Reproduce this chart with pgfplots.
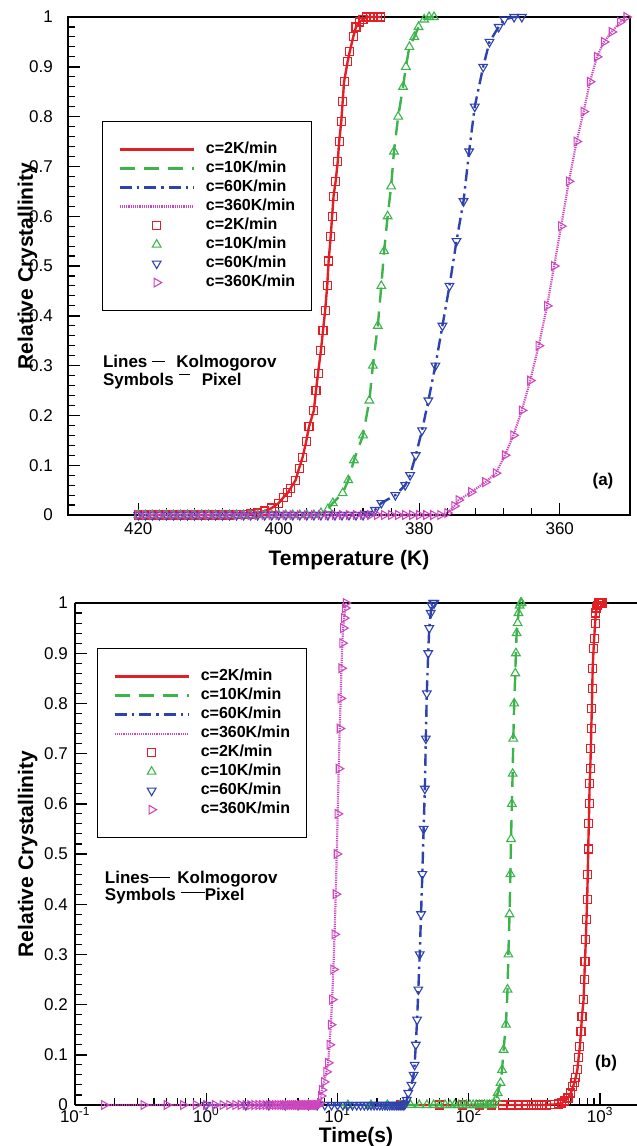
\documentclass[border=0pt]{standalone}
\usepackage{pgfplots}
\pgfplotsset{compat=1.18}
\usepackage{pgfplotstable}
\usepackage{fontspec}
\setmainfont{Liberation Sans}

\definecolor{cred}{RGB}{228,30,37}
\definecolor{cgreen}{RGB}{60,180,75}
\definecolor{cblue}{RGB}{45,65,175}
\definecolor{cmag}{RGB}{205,70,190}

% c = 2 K/min
\pgfplotstableread{
T X t
420 0 0
419 0 30
418 0 60
417 0 90
416 0 120
415 0 150
414 0 180
413 0 210
412 0 240
411 0 270
410 0 300
409 0 330
408 0 360
407 0 390
406 0.001 420
405 0.001 450
404 0.002 480
403 0.004 510
402 0.008 540
401 0.014 570
400 0.024 600
399.3 0.036 621
398.7 0.045 639
398.3 0.054 651
397.6 0.070 672
397.1 0.094 687
396.6 0.116 702
396.1 0.147 717
395.7 0.177 729
395.0 0.210 750
394.7 0.250 759
394.4 0.285 768
394.0 0.330 780
393.7 0.370 789
393.4 0.410 798
393.1 0.460 807
392.9 0.510 813
392.6 0.560 822
392.4 0.600 828
392.2 0.640 834
391.9 0.670 843
391.6 0.710 852
391.4 0.750 858
391.1 0.790 867
390.9 0.830 873
390.7 0.870 879
390.2 0.910 894
389.9 0.930 903
389.4 0.960 918
389.0 0.980 930
388.5 0.990 945
388.0 0.995 960
387.5 1 975
387.0 1 990
386.5 1 1005
386.0 1 1020
385.5 1 1035
}\tred

% c = 10 K/min
\pgfplotstableread{
T X t
420 0 0
419 0 6
418 0 12
417 0 18
416 0 24
415 0 30
414 0 36
413 0 42
412 0 48
411 0 54
410 0 60
409 0 66
408 0 72
407 0 78
406 0 84
405 0 90
404 0 96
403 0 102
402 0 108
401 0 114
400 0 120
399 0 126
398 0 132
397 0 138
396 0 144
395 0 150
394 0.004 156
393 0.012 162
392.3 0.024 166.2
390.9 0.044 174.6
390.1 0.070 179.4
389.3 0.110 184.2
388.0 0.160 192
387.1 0.230 197.4
386.6 0.300 200.4
385.9 0.380 204.6
385.4 0.460 207.6
385.0 0.530 210
384.5 0.600 213
384.0 0.660 216
383.6 0.730 218.4
383.0 0.800 222
382.3 0.860 226.2
381.9 0.900 228.6
381.4 0.940 231.6
380.7 0.960 235.8
380.1 0.980 239.4
379.3 0.995 244.2
378.6 1 248.4
377.9 1 252.6
}\tgreen

% c = 60 K/min
\pgfplotstableread{
T X t
420 0 0
419 0 1
418 0 2
417 0 3
416 0 4
415 0 5
414 0 6
413 0 7
412 0 8
411 0 9
410 0 10
409 0 11
408 0 12
407 0 13
406 0 14
405 0 15
404 0 16
403 0 17
402 0 18
401 0 19
400 0 20
399 0 21
398 0 22
397 0 23
396 0 24
395 0 25
394 0 26
393 0 27
392 0 28
391 0 29
390 0 30
389 0 31
388 0 32
387.3 0.002 32.7
386.3 0.010 33.7
385.4 0.024 34.6
383.4 0.040 36.6
382.0 0.060 38
381.3 0.080 38.7
380.5 0.120 39.5
379.6 0.170 40.4
378.7 0.230 41.3
377.7 0.300 42.3
376.7 0.380 43.3
375.7 0.460 44.3
374.7 0.550 45.3
373.7 0.630 46.3
372.9 0.730 47.1
372.1 0.820 47.9
370.9 0.900 49.1
370.0 0.950 50
368.7 0.980 51.3
367.9 0.995 52.1
366.5 1 53.5
365.4 1 54.6
}\tblue

% c = 360 K/min
\pgfplotstableread{
T X t
420 0 0
419 0 0.1667
418 0 0.3333
417 0 0.5
416 0 0.6667
415 0 0.8333
414 0 1
413 0 1.1667
412 0 1.3333
411 0 1.5
410 0 1.6667
409 0 1.8333
408 0 2
407 0 2.1667
406 0 2.3333
405 0 2.5
404 0 2.6667
403 0 2.8333
402 0 3
401 0 3.1667
400 0 3.3333
399 0 3.5
398 0 3.6667
397 0 3.8333
396 0 4
395 0 4.1667
394 0 4.3333
393 0 4.5
392 0 4.6667
391 0 4.8333
390 0 5
389 0 5.1667
388 0 5.3333
387 0 5.5
386 0 5.6667
385 0 5.8333
384 0 6
383 0 6.1667
382 0 6.3333
381 0 6.5
380 0 6.6667
379 0 6.8333
378 0 7
377 0 7.1667
376 0.004 7.3333
375 0.018 7.5
374.4 0.030 7.6
372.6 0.046 7.9
370.6 0.066 8.233
369.1 0.084 8.483
367.8 0.120 8.7
366.6 0.160 8.9
365.4 0.210 9.1
364.2 0.270 9.3
363.0 0.340 9.5
361.8 0.420 9.7
360.8 0.500 9.867
359.8 0.580 10.033
358.7 0.670 10.217
357.6 0.750 10.4
356.6 0.810 10.567
355.7 0.870 10.717
354.7 0.920 10.883
353.7 0.950 11.05
352.6 0.970 11.233
351.4 0.990 11.433
350.5 1 11.583
}\tmag

\pgfplotsset{
  mylegimg/.style={legend image code/.code={\draw[mark repeat=2,mark phase=2,##1] plot coordinates {(0pt,0pt) (37pt,0pt) (74pt,0pt)};}},
  common/.style={
    scale only axis, width=562pt,
    ymin=0, ymax=1,
    ytick={0,0.1,0.2,0.3,0.4,0.5,0.6,0.7,0.8,0.9,1},
    minor y tick num=4,
    tick align=inside,
    major tick length=12pt, minor tick length=7pt,
    every tick/.append style={line width=1.4pt, black},
    every minor tick/.append style={line width=1.1pt},
    axis line style={line width=2pt},
    /pgf/number format/assume math mode=true,
    tick label style={font=\fontsize{17}{17}\selectfont},
    label style={font=\bfseries\fontsize{21}{21}\selectfont},
    clip=false,
    legend cell align=left,
    legend style={font=\bfseries\fontsize{16}{16}\selectfont, draw=black, line width=1pt,
      anchor=north west, inner xsep=16pt, inner ysep=20pt, row sep=3pt, column sep=11pt,
      nodes={inner sep=0pt, text height=12pt, text depth=4pt}},
    mylegimg,
  },
  lred/.style={cred, line width=2.4pt, no marks},
  lgreen/.style={cgreen, line width=2.4pt, no marks, dash pattern=on 15pt off 9pt},
  lblue/.style={cblue, line width=2.4pt, no marks, dash pattern=on 12pt off 5pt on 2.5pt off 5pt},
  lmag/.style={cmag, line width=2.2pt, no marks, dash pattern=on 1.2pt off 1pt},
  mred/.style={cred, only marks, mark=square, mark size=4pt, line width=1.1pt, mark options={solid}, mylegimg},
  mgreen/.style={cgreen, only marks, mark=triangle, mark size=5pt, line width=1.1pt, mark options={solid}, mylegimg},
  mblue/.style={cblue, only marks, mark=triangle, mark size=5pt, line width=1.1pt, mark options={solid, rotate=180}, mylegimg},
  mmag/.style={cmag, only marks, mark=triangle, mark size=5pt, line width=1.1pt, mark options={solid, rotate=-90}, mylegimg},
}

\begin{document}
\begin{tikzpicture}
\useasboundingbox (0pt,0pt) rectangle (637pt,-1146pt);

% ---------------- panel (a)
\begin{axis}[common, at={(68pt,-17pt)}, anchor=north west, height=498pt,
  tick pos=left,
  x dir=reverse, xmin=350, xmax=430,
  xtick={360,380,400,420}, minor x tick num=4,
  xticklabel style={anchor=base, inner sep=0pt, yshift=-19pt},
  yticklabel style={anchor=east, inner sep=0pt, xshift=-15pt},
  xlabel={Temperature (K)},
  xlabel style={at={(axis description cs:0.5,0)}, anchor=base, inner sep=0pt, yshift=-50pt},
  ylabel={Relative Crystallinity},
  ylabel style={at={(axis description cs:-0.0623,0.5)}, anchor=base, inner sep=0pt},
  legend style={at={(axis description cs:0.0605,0.791)}},
]
\addplot[lred] table[x=T,y=X] {\tred};
\addlegendentry{c=2K/min}
\addplot[lgreen] table[x=T,y=X] {\tgreen};
\addlegendentry{c=10K/min}
\addplot[lblue] table[x=T,y=X] {\tblue};
\addlegendentry{c=60K/min}
\addplot[lmag] table[x=T,y=X] {\tmag};
\addlegendentry{c=360K/min}
\addplot[mred] table[x=T,y=X] {\tred};
\addlegendentry{c=2K/min}
\addplot[mgreen] table[x=T,y=X] {\tgreen};
\addlegendentry{c=10K/min}
\addplot[mblue] table[x=T,y=X] {\tblue};
\addlegendentry{c=60K/min}
\addplot[mmag] table[x=T,y=X] {\tmag};
\addlegendentry{c=360K/min}
\node[anchor=base west, inner sep=0pt, font=\bfseries\fontsize{17}{17}\selectfont] at (axis description cs:0.062,0.297)
  {Lines\hspace{5pt}\rule[5pt]{13pt}{1.2pt}\hspace{11pt}Kolmogorov};
\node[anchor=base west, inner sep=0pt, font=\bfseries\fontsize{17}{17}\selectfont] at (axis description cs:0.062,0.261)
  {Symbols\hspace{5pt}\rule[10pt]{11pt}{1.2pt}\hspace{12pt}Pixel};
\node[anchor=base, inner sep=0pt, font=\bfseries\fontsize{17}{17}\selectfont] at (axis description cs:0.952,0.060) {(a)};
\end{axis}

% ---------------- panel (b)
\begin{axis}[common, at={(75pt,-603pt)}, anchor=north west, height=502pt,
  xmode=log, xmin=0.1, xmax=1914,
  axis x line*=box, axis y line*=left,
  xtick pos=left, ytick pos=left,
  xtick={0.1,1,10,100,1000},
  xticklabels={10\textsuperscript{-1},10\textsuperscript{0},10\textsuperscript{1},10\textsuperscript{2},10\textsuperscript{3}},
  minor xtick={0.2,0.3,0.4,0.5,0.6,0.7,0.8,0.9,2,3,4,5,6,7,8,9,20,30,40,50,60,70,80,90,200,300,400,500,600,700,800,900},
  xticklabel style={anchor=base, inner sep=0pt, yshift=-17pt},
  yticklabel style={anchor=east, inner sep=0pt, xshift=-7pt},
  xlabel={Time(s)},
  xlabel style={at={(axis description cs:0.5,0)}, anchor=base, inner sep=0pt, yshift=-37pt},
  ylabel={Relative Crystallinity},
  ylabel style={at={(axis description cs:-0.0747,0.5)}, anchor=base, inner sep=0pt},
  legend style={at={(axis description cs:0.039,0.910)}},
]
\addplot[lred, skip coords between index={0}{1}] table[x=t,y=X] {\tred};
\addlegendentry{c=2K/min}
\addplot[lgreen, skip coords between index={0}{1}] table[x=t,y=X] {\tgreen};
\addlegendentry{c=10K/min}
\addplot[lblue, skip coords between index={0}{1}] table[x=t,y=X] {\tblue};
\addlegendentry{c=60K/min}
\addplot[lmag, skip coords between index={0}{1}] table[x=t,y=X] {\tmag};
\addlegendentry{c=360K/min}
\addplot[mred, skip coords between index={0}{1}] table[x=t,y=X] {\tred};
\addlegendentry{c=2K/min}
\addplot[mgreen, skip coords between index={0}{1}] table[x=t,y=X] {\tgreen};
\addlegendentry{c=10K/min}
\addplot[mblue, skip coords between index={0}{1}] table[x=t,y=X] {\tblue};
\addlegendentry{c=60K/min}
\addplot[mmag, skip coords between index={0}{1}] table[x=t,y=X] {\tmag};
\addlegendentry{c=360K/min}
\node[anchor=base west, inner sep=0pt, font=\bfseries\fontsize{17}{17}\selectfont] at (axis description cs:0.053,0.442)
  {Lines\rule[5pt]{21pt}{1.2pt}\hspace{7pt}Kolmogorov};
\node[anchor=base west, inner sep=0pt, font=\bfseries\fontsize{17}{17}\selectfont] at (axis description cs:0.053,0.408)
  {Symbols\hspace{5pt}\rule[7pt]{24pt}{1.2pt}Pixel};
\node[anchor=base, inner sep=0pt, font=\bfseries\fontsize{17}{17}\selectfont] at (axis description cs:0.945,0.0757) {(b)};
\end{axis}
\end{tikzpicture}
\end{document}
